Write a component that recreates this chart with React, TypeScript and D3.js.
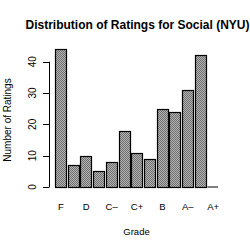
import React from "react";
import * as d3 from "d3";

const grades = ["F", "D-", "D", "D+", "C-", "C", "C+", "B-", "B", "B+", "A-", "A", "A+"];
const counts = [44, 7, 10, 5, 8, 18, 11, 9, 25, 24, 31, 42, 0];
const shownLabels = ["F", "D", "C\u2013", "C+", "B", "A\u2013", "A+"];
const yTicks = [0, 10, 20, 30, 40];

const title = "Distribution of Ratings for Social (NYU)";
const xTitle = "Grade";
const yTitle = "Number of Ratings";

export default function App() {
  const W = 250, H = 250;
  const barW = 1, space = 0.2;
  const lefts = grades.map((_, i) => space + i * (barW + space));
  const x = d3.scaleLinear().domain([space, space + grades.length * (barW + space) - space]).range([55, 218]);
  const y = d3.scaleLinear().domain([0, 40]).range([187, 61.7]);
  const font = "'Liberation Sans', Arial, Helvetica, sans-serif";
  const cx = (x.range()[0] + x.range()[1]) / 2;

  return (
    <svg width={W} height={H} style={{ position: "absolute", left: 0, top: 0, background: "#fff" }} fontFamily={font}>
      <defs>
        <pattern id="chk" width={2} height={2} patternUnits="userSpaceOnUse">
          <rect x={0} y={0} width={2} height={2} fill="#b4b4b4" />
          <rect x={0} y={0} width={1} height={1} fill="#6e6e6e" />
          <rect x={1} y={1} width={1} height={1} fill="#6e6e6e" />
        </pattern>
      </defs>
      <rect width={W} height={H} fill="#fff" />
      <text x={cx + 1} y={28.5} textAnchor="middle" fontSize={12} fontWeight="bold">{title}</text>
      {grades.map((g, i) => {
        const x0 = x(lefts[i]);
        const x1 = x(lefts[i] + barW);
        const v = counts[i];
        if (v === 0) {
          return <line key={g} x1={x0} x2={x1} y1={y(0)} y2={y(0)} stroke="#000" strokeWidth={1} />;
        }
        return (
          <rect key={g} x={Math.round(x0) + 0.5} y={Math.round(y(v)) + 0.5} width={Math.round(x1 - x0)} height={Math.round(y(0) - y(v))}
            fill="url(#chk)" stroke="#000" strokeWidth={1.2} />
        );
      })}
      <line x1={49.5} x2={49.5} y1={y(0)} y2={y(40)} stroke="#000" />
      {yTicks.map(t => (
        <g key={t}>
          <line x1={43} x2={49.5} y1={Math.round(y(t)) + 0.5} y2={Math.round(y(t)) + 0.5} stroke="#000" />
          <text transform={`translate(36,${y(t)}) rotate(-90)`} textAnchor="middle" fontSize={10}>{t}</text>
        </g>
      ))}
      {shownLabels.map((l, k) => {
        const i = k * 2;
        const c = x(lefts[i] + barW / 2);
        return <text key={l} x={c + 0.5} y={209.5} textAnchor="middle" fontSize={9.5}>{l}</text>;
      })}
      <text x={cx} y={234.5} textAnchor="middle" fontSize={9.5}>{xTitle}</text>
      <text transform={`translate(11,120) rotate(-90)`} textAnchor="middle" fontSize={10}>{yTitle}</text>
    </svg>
  );
}
